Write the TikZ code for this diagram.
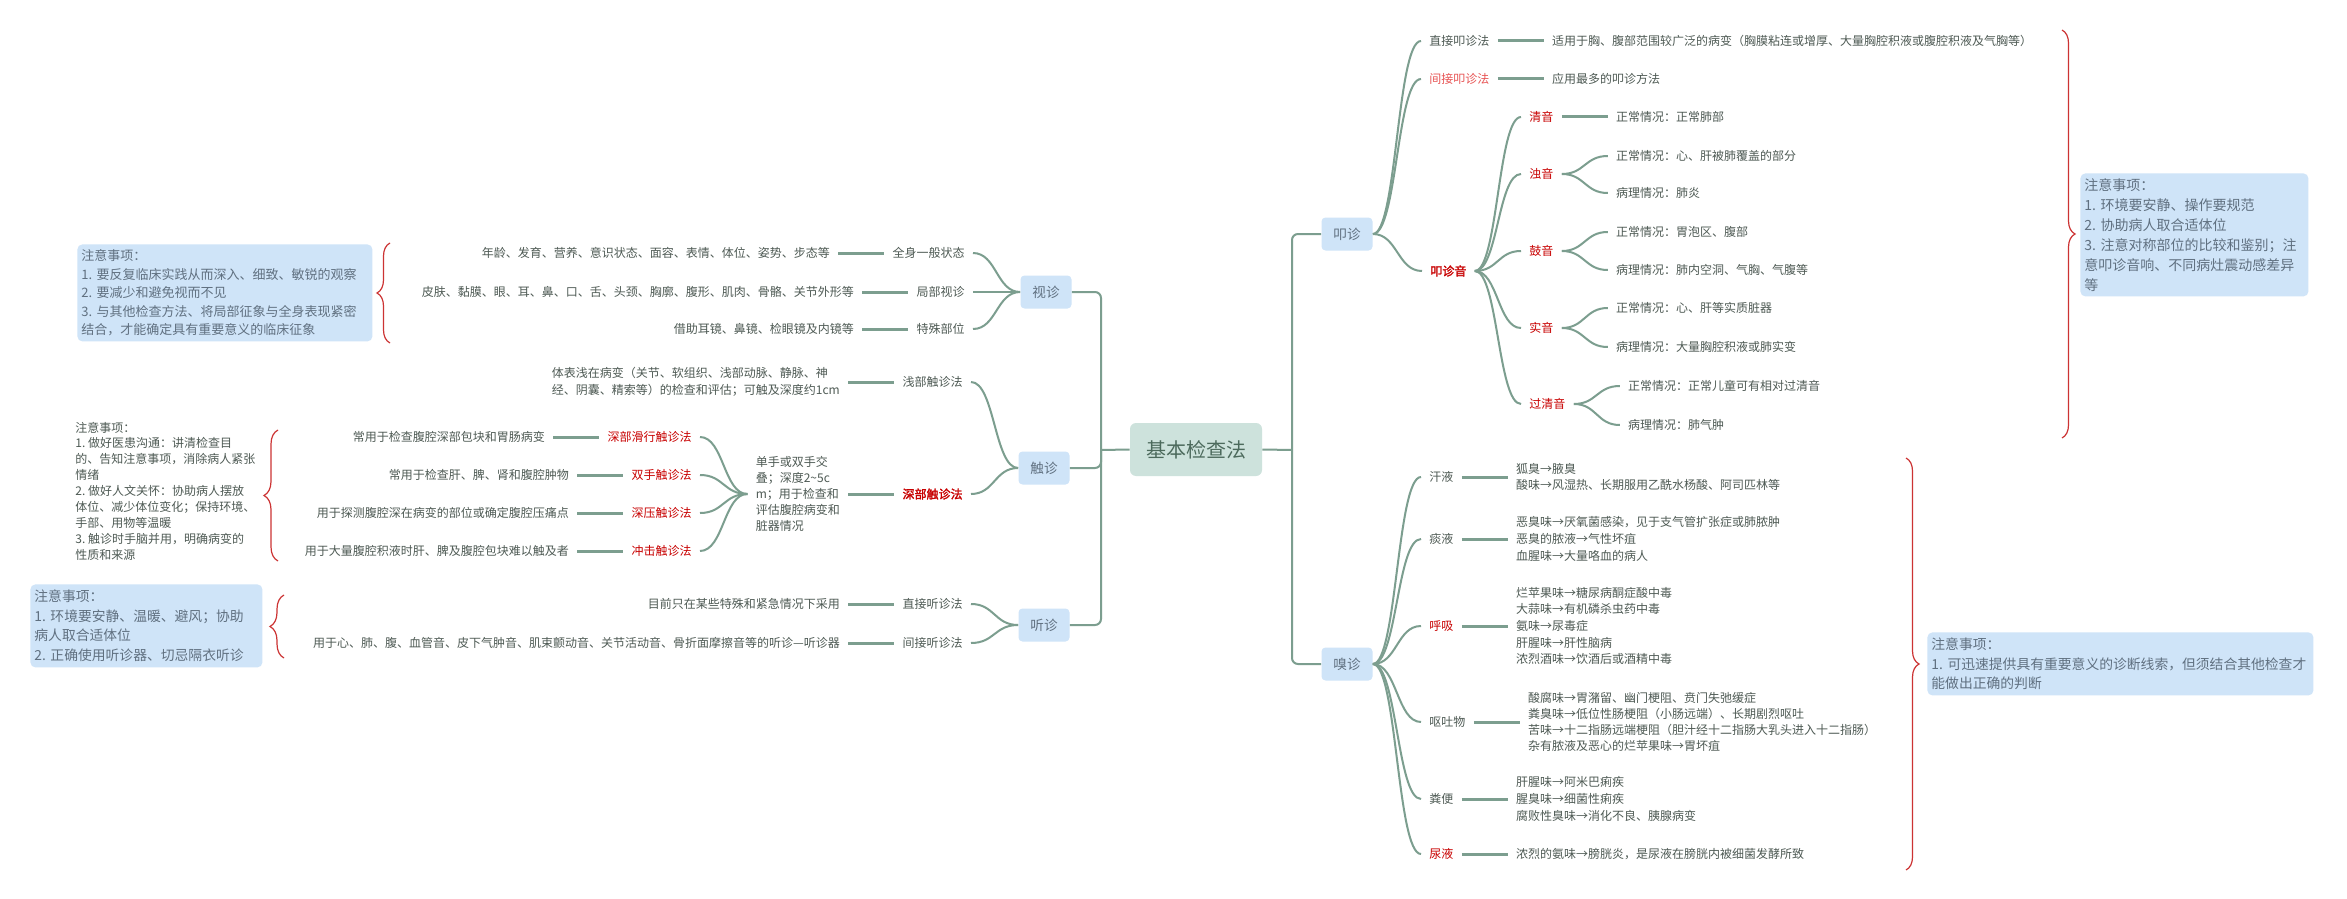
\documentclass[tikz,border=0pt]{standalone}
\usepackage{fontspec}
\setmainfont{Noto Sans CJK SC}[AutoFakeBold=2]
\usetikzlibrary{calc,decorations.pathreplacing}
\definecolor{lc}{RGB}{124,158,143}
\definecolor{tc}{RGB}{78,90,84}
\definecolor{nc}{RGB}{96,112,128}
\definecolor{nf}{RGB}{207,228,248}
\definecolor{cf}{RGB}{205,226,220}
\definecolor{ct}{RGB}{76,106,92}
\definecolor{rd}{RGB}{200,0,0}
\definecolor{lrd}{RGB}{232,84,84}
\definecolor{bc}{RGB}{204,51,51}
\tikzset{
  conn/.style={draw=lc, line width=1pt},
  barln/.style={draw=lc, line width=1.5pt},
  kid/.style={font=\fontsize{6}{8.35}\selectfont, text=tc, inner sep=4pt, align=left},
  redk/.style={kid, text=rd},
  mainn/.style={fill=nf, text=nc, rounded corners=2pt, minimum width=25.5pt, minimum height=16.5pt, inner sep=1pt, font=\fontsize{6.8}{8}\selectfont},
  rootn/.style={fill=cf, text=ct, rounded corners=3pt, minimum width=66pt, minimum height=26.5pt, font=\fontsize{10}{12}\selectfont},
  notebox/.style={fill=nf, text=nc, rounded corners=2.5pt, align=left, anchor=north west, inner xsep=2pt, inner ysep=0pt},
  brc/.style={draw=bc, line width=0.6pt, decorate, decoration={brace, amplitude=#1}},
  curv/.style={to path={.. controls ($(\tikztostart)!0.5!(\tikztostart -| \tikztotarget)$) and ($(\tikztotarget)!0.5!(\tikztotarget -| \tikztostart)$) .. (\tikztotarget)}},
}
\begin{document}
\frenchspacing
\begin{tikzpicture}[x=0.5pt,y=-0.5pt]
\fill[white] (0,0) rectangle (2347,899);
\useasboundingbox (0,0) rectangle (2347,899);

% root and main branches
\node[rootn] (root) at (1196,449.5) {基本检查法};
\node[mainn] (shi) at (1046,292) {视诊};
\node[mainn] (chu) at (1044,468) {触诊};
\node[mainn] (ting) at (1044,625) {听诊};
\node[mainn] (kou) at (1347,234) {叩诊};
\node[mainn] (xiu) at (1347,664) {嗅诊};
\coordinate (jl) at (1101,450);
\coordinate (jr) at (1292,450);
\draw[conn, rounded corners=3pt] (shi.east) -| (jl);
\draw[conn, rounded corners=3pt] (chu.east) -| (jl);
\draw[conn, rounded corners=3pt] (ting.east) -| (jl);
\draw[conn] (jl) -- (root.west);
\draw[conn] (root.east) -- (jr);
\draw[conn, rounded corners=3pt] (jr) |- (kou.west);
\draw[conn, rounded corners=3pt] (jr) |- (xiu.west);

% ---------- 视诊 ----------
\node[kid, anchor=east] (s1) at (973,253) {全身一般状态};
\node[kid, anchor=east] (s2) at (973,292) {局部视诊};
\node[kid, anchor=east] (s3) at (973,329) {特殊部位};
\node[kid, anchor=east] (s1l) at ([xshift=-23pt]s1.west) {年龄、发育、营养、意识状态、面容、表情、体位、姿势、步态等};
\node[kid, anchor=east] (s2l) at ([xshift=-23pt]s2.west) {皮肤、黏膜、眼、耳、鼻、口、舌、头颈、胸廓、腹形、肌肉、骨骼、关节外形等};
\node[kid, anchor=east] (s3l) at ([xshift=-23pt]s3.west) {借助耳镜、鼻镜、检眼镜及内镜等};
\foreach \k in {s1,s2,s3}{
  \draw[conn] (shi.west) to[curv] (\k.east);
  \draw[barln] (\k l.east) -- (\k.west);
}
\node[notebox, text width=143.5pt, minimum height=48.5pt, font=\fontsize{6.5}{9.25}\selectfont] (n1) at (77,244) {注意事项：\\1. 要反复临床实践从而深入、细致、敏锐的观察\\2. 要减少和避免视而不见\\3. 与其他检查方法、将局部征象与全身表现紧密\\结合，才能确定具有重要意义的临床征象};
\draw[brc=6.5pt] (390,343) -- (390,243);

% ---------- 触诊 ----------
\node[kid, anchor=east] (c1) at (971,382) {浅部触诊法};
\node[redk, anchor=east, font=\fontsize{6}{8.35}\selectfont\bfseries] (c2) at (971,494) {深部触诊法};
\node[kid, anchor=east] (c1l) at ([xshift=-23pt]c1.west) {体表浅在病变（关节、软组织、浅部动脉、静脉、神\\经、阴囊、精索等）的检查和评估；可触及深度约1cm};
\node[kid, anchor=east, font=\fontsize{6}{8}\selectfont] (c2l) at ([xshift=-23pt]c2.west) {单手或双手交\\叠；深度2\textasciitilde 5c\\m；用于检查和\\评估腹腔病变和\\脏器情况};
\draw[conn] (chu.west) to[curv] (c1.east);
\draw[conn] (chu.west) to[curv] (c2.east);
\draw[barln] (c1l.east) -- (c1.west);
\draw[barln] (c2l.east) -- (c2.west);
\node[redk, anchor=east] (m1) at (700,437) {深部滑行触诊法};
\node[redk, anchor=east] (m2) at (700,475) {双手触诊法};
\node[redk, anchor=east] (m3) at (700,513) {深压触诊法};
\node[redk, anchor=east] (m4) at (700,551) {冲击触诊法};
\node[kid, anchor=east] (m1l) at ([xshift=-23pt]m1.west) {常用于检查腹腔深部包块和胃肠病变};
\node[kid, anchor=east] (m2l) at ([xshift=-23pt]m2.west) {常用于检查肝、脾、肾和腹腔肿物};
\node[kid, anchor=east] (m3l) at ([xshift=-23pt]m3.west) {用于探测腹腔深在病变的部位或确定腹腔压痛点};
\node[kid, anchor=east] (m4l) at ([xshift=-23pt]m4.west) {用于大量腹腔积液时肝、脾及腹腔包块难以触及者};
\foreach \k in {m1,m2,m3,m4}{
  \draw[conn] (c2l.west) to[curv] (\k.east);
  \draw[barln] (\k l.east) -- (\k.west);
}
\node[kid, anchor=west, inner sep=0pt, font=\fontsize{6}{7.95}\selectfont] (n2) at (75,491) {注意事项：\\1. 做好医患沟通：讲清检查目\\的、告知注意事项，消除病人紧张\\情绪\\2. 做好人文关怀：协助病人摆放\\体位、减少体位变化；保持环境、\\手部、用物等温暖\\3. 触诊时手脑并用，明确病变的\\性质和来源};
\draw[brc=7pt] (278,561) -- (278,430);

% ---------- 听诊 ----------
\node[kid, anchor=east] (t1) at (971,604) {直接听诊法};
\node[kid, anchor=east] (t2) at (971,643) {间接听诊法};
\node[kid, anchor=east] (t1l) at ([xshift=-23pt]t1.west) {目前只在某些特殊和紧急情况下采用};
\node[kid, anchor=east] (t2l) at ([xshift=-23pt]t2.west) {用于心、肺、腹、血管音、皮下气肿音、肌束颤动音、关节活动音、骨折面摩擦音等的听诊—听诊器};
\foreach \k in {t1,t2}{
  \draw[conn] (ting.west) to[curv] (\k.east);
  \draw[barln] (\k l.east) -- (\k.west);
}
\node[notebox, text width=112pt, minimum height=41.5pt, font=\fontsize{6.9}{9.8}\selectfont] (n3) at (30,584) {注意事项：\\1. 环境要安静、温暖、避风；协助\\病人取合适体位\\2. 正确使用听诊器、切忌隔衣听诊};
\draw[brc=7pt] (284,658) -- (284,595);

% ---------- 叩诊 ----------
\node[kid, anchor=west] (k1) at (1421,41) {直接叩诊法};
\node[kid, anchor=west, text=lrd] (k2) at (1421,79) {间接叩诊法};
\node[redk, anchor=west, font=\fontsize{6}{8.35}\selectfont\bfseries] (k3) at (1422,271) {叩诊音};
\node[kid, anchor=west] (k1l) at ([xshift=23pt]k1.east) {适用于胸、腹部范围较广泛的病变（胸膜粘连或增厚、大量胸腔积液或腹腔积液及气胸等）};
\node[kid, anchor=west] (k2l) at ([xshift=23pt]k2.east) {应用最多的叩诊方法};
\draw[conn] (kou.east) to[curv] (k1.west);
\draw[conn] (kou.east) to[curv] (k2.west);
\draw[conn] (kou.east) to[curv] (k3.west);
\draw[barln] (k1.east) -- (k1l.west);
\draw[barln] (k2.east) -- (k2l.west);

\node[redk, anchor=west] (q1) at (1521,117) {清音};
\node[redk, anchor=west] (q2) at (1521,174) {浊音};
\node[redk, anchor=west] (q3) at (1521,251) {鼓音};
\node[redk, anchor=west] (q4) at (1521,328) {实音};
\node[redk, anchor=west] (q5) at (1521,404) {过清音};
\foreach \k in {q1,q2,q3,q4,q5}{
  \draw[conn] (k3.east) to[curv] (\k.west);
}
\node[kid, anchor=west] (q1l) at ([xshift=23pt]q1.east) {正常情况：正常肺部};
\draw[barln] (q1.east) -- (q1l.west);
\node[kid, anchor=west] (q2a) at ($(q2.east)+(46,-18)$) {正常情况：心、肝被肺覆盖的部分};
\node[kid, anchor=west] (q2b) at ($(q2.east)+(46,19)$) {病理情况：肺炎};
\node[kid, anchor=west] (q3a) at ($(q3.east)+(46,-19)$) {正常情况：胃泡区、腹部};
\node[kid, anchor=west] (q3b) at ($(q3.east)+(46,19)$) {病理情况：肺内空洞、气胸、气腹等};
\node[kid, anchor=west] (q4a) at ($(q4.east)+(46,-20)$) {正常情况：心、肝等实质脏器};
\node[kid, anchor=west] (q4b) at ($(q4.east)+(46,19)$) {病理情况：大量胸腔积液或肺实变};
\node[kid, anchor=west] (q5a) at ($(q5.east)+(46,-18)$) {正常情况：正常儿童可有相对过清音};
\node[kid, anchor=west] (q5b) at ($(q5.east)+(46,21)$) {病理情况：肺气肿};
\foreach \k in {q2,q3,q4,q5}{
  \draw[conn] (\k.east) to[curv] (\k a.west);
  \draw[conn] (\k.east) to[curv] (\k b.west);
}
\node[notebox, text width=110pt, minimum height=61.5pt, font=\fontsize{7}{10}\selectfont] (n4) at (2080,173) {注意事项：\\1. 环境要安静、操作要规范\\2. 协助病人取合适体位\\3. 注意对称部位的比较和鉴别；注\\意叩诊音响、不同病灶震动感差异\\等};
\draw[brc=6.5pt] (2062,30) -- (2062,438);

% ---------- 嗅诊 ----------
\node[kid, anchor=west] (x1) at (1421,477) {汗液};
\node[kid, anchor=west] (x2) at (1421,539) {痰液};
\node[redk, anchor=west] (x3) at (1421,626) {呼吸};
\node[kid, anchor=west] (x4) at (1421,722) {呕吐物};
\node[kid, anchor=west] (x5) at (1421,799) {粪便};
\node[redk, anchor=west] (x6) at (1421,854) {尿液};
\node[kid, anchor=west] (x1l) at ([xshift=23pt]x1.east) {狐臭→腋臭\\酸味→风湿热、长期服用乙酰水杨酸、阿司匹林等};
\node[kid, anchor=west] (x2l) at ([xshift=23pt]x2.east) {恶臭味→厌氧菌感染，见于支气管扩张症或肺脓肿\\恶臭的脓液→气性坏疽\\血腥味→大量咯血的病人};
\node[kid, anchor=west] (x3l) at ([xshift=23pt]x3.east) {烂苹果味→糖尿病酮症酸中毒\\大蒜味→有机磷杀虫药中毒\\氨味→尿毒症\\肝腥味→肝性脑病\\浓烈酒味→饮酒后或酒精中毒};
\node[kid, anchor=west, font=\fontsize{6}{7.9}\selectfont] (x4l) at ([xshift=23pt]x4.east) {酸腐味→胃潴留、幽门梗阻、贲门失弛缓症\\粪臭味→低位性肠梗阻（小肠远端）、长期剧烈呕吐\\苦味→十二指肠远端梗阻（胆汁经十二指肠大乳头进入十二指肠）\\杂有脓液及恶心的烂苹果味→胃坏疽};
\node[kid, anchor=west] (x5l) at ([xshift=23pt]x5.east) {肝腥味→阿米巴痢疾\\腥臭味→细菌性痢疾\\腐败性臭味→消化不良、胰腺病变};
\node[kid, anchor=west] (x6l) at ([xshift=23pt]x6.east) {浓烈的氨味→膀胱炎，是尿液在膀胱内被细菌发酵所致};
\foreach \k in {x1,x2,x3,x4,x5,x6}{
  \draw[conn] (xiu.east) to[curv] (\k.west);
  \draw[barln] (\k.east) -- (\k l.west);
}
\node[notebox, text width=189pt, minimum height=31.5pt, font=\fontsize{6.9}{9.8}\selectfont] (n5) at (1927,632) {注意事项：\\1. 可迅速提供具有重要意义的诊断线索，但须结合其他检查才\\能做出正确的判断};
\draw[brc=6.5pt] (1906,458) -- (1906,870);
\end{tikzpicture}
\end{document}
